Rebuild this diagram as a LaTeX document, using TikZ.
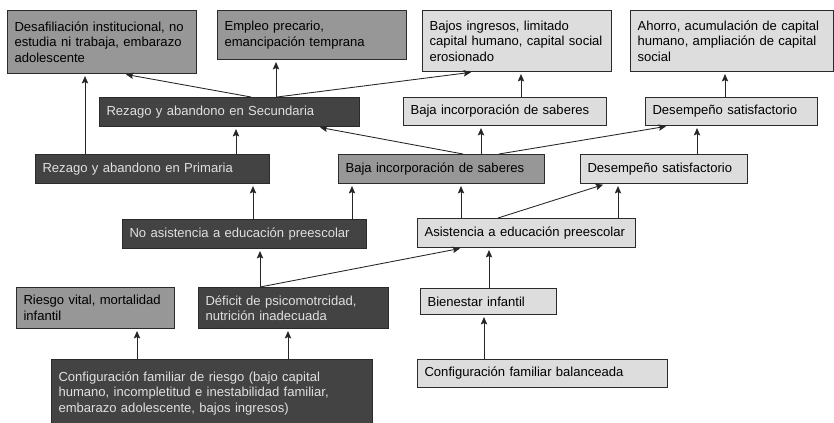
\documentclass[tikz,border=0pt]{standalone}
\usepackage{fontspec}
\setmainfont{Liberation Sans}
\usetikzlibrary{arrows.meta,calc}

\definecolor{darkbox}{HTML}{434343}
\definecolor{midbox}{HTML}{979797}
\definecolor{lightbox}{HTML}{DDDDDD}
\definecolor{boxline}{HTML}{2B2B2B}

\begin{document}
\begin{tikzpicture}[x=0.75pt,y=-0.75pt,
    box/.style={draw=boxline, line width=0.8pt, anchor=north west, align=left,
        inner xsep=5.25pt, inner ysep=1pt,
        font=\fontsize{9.8}{11.6}\selectfont},
    boxwh/.style 2 args={minimum width=#1*0.75pt, minimum height=#2*0.75pt,
        text width=#1*0.75pt-10.5pt},
    dark/.style={box, fill=darkbox, text=white!88!black},
    mid/.style={box, fill=midbox, text=black},
    light/.style={box, fill=lightbox, text=black},
    arr/.style={draw=black!85, line width=0.65pt, shorten >=1.5pt,
        -{Stealth[length=5.5pt,width=4.8pt,inset=1pt]}}]
\useasboundingbox (0,0) rectangle (834,422);
% outcomes
\node[mid, boxwh={189}{63}] at (7,10) (desaf) {Desafiliación institucional, no\\estudia ni trabaja, embarazo\\adolescente};
\node[mid, boxwh={189}{49}] at (217,10) (empleo) {Empleo precario,\\emancipación temprana};
\node[light, boxwh={189}{61}] at (422,10) (bajos) {Bajos ingresos, limitado\\capital humano, capital social\\erosionado};
\node[light, boxwh={203}{61}] at (630,10) (ahorro) {Ahorro, acumulación de capital\\humano, ampliación de capital\\social};
% secundaria
\node[dark, boxwh={260}{29}] at (99,97) (sec) {Rezago y abandono en Secundaria};
\node[light, boxwh={203}{28}] at (403,97) (bajaA) {Baja incorporación de saberes};
\node[light, boxwh={172}{28}] at (645,97) (desA) {Desempeño satisfactorio};
% primaria
\node[dark, boxwh={234}{29}] at (35,154) (prim) {Rezago y abandono en Primaria};
\node[mid, boxwh={206}{29}] at (338,154) (bajaB) {Baja incorporación de saberes};
\node[light, boxwh={167}{29}] at (580,154) (desB) {Desempeño satisfactorio};
% preescolar
\node[dark, boxwh={244}{29}] at (122,219) (noasis) {No asistencia a educación preescolar};
\node[light, boxwh={218}{29}] at (417,218) (asis) {Asistencia a educación preescolar};
% infancia
\node[mid, boxwh={158}{41}] at (16,287) (riesgo) {Riesgo vital, mortalidad\\infantil};
\node[dark, boxwh={190}{41}] at (198,287) (deficit) {Déficit de psicomotrcidad,\\nutrición inadecuada};
\node[light, boxwh={136}{26}] at (420,288) (bien) {Bienestar infantil};
% familia
\node[dark, boxwh={321}{68}] at (51,359) (confR) {Configuración familiar de riesgo (bajo capital\\humano, incompletitud e inestabilidad familiar,\\embarazo adolescente, bajos ingresos)};
\node[light, boxwh={250}{28}] at (417,359) (confB) {Configuración familiar balanceada};

\draw[arr] ($(prim.north west)+(50,0)$) -- ($(desaf.south west)+(78,0)$);
\draw[arr] ($(sec.north west)+(152,0)$) -- ($(desaf.south west)+(117,0)$);
\draw[arr] ($(sec.north west)+(177,0)$) -- ($(empleo.south west)+(59,0)$);
\draw[arr] ($(sec.north west)+(178,0)$) -- ($(bajos.south west)+(51,0)$);
\draw[arr] ($(bajaA.north west)+(118,0)$) -- ($(bajos.south west)+(99,0)$);
\draw[arr] ($(desA.north west)+(80,0)$) -- ($(ahorro.south west)+(95,0)$);
\draw[arr] ($(prim.north west)+(201,0)$) -- ($(sec.south west)+(137,0)$);
\draw[arr] ($(bajaB.north west)+(125,0)$) -- ($(sec.south west)+(219,0)$);
\draw[arr] ($(bajaB.north west)+(143,0)$) -- ($(bajaA.south west)+(78,0)$);
\draw[arr] ($(bajaB.north west)+(161,0)$) -- ($(desA.south west)+(23,0)$);
\draw[arr] ($(noasis.north west)+(131,0)$) -- ($(prim.south west)+(218,0)$);
\draw[arr] ($(noasis.north west)+(230,0)$) -- ($(bajaB.south west)+(14,0)$);
\draw[arr] ($(asis.north west)+(44,0)$) -- ($(bajaB.south west)+(123,0)$);
\draw[arr] ($(asis.north west)+(81,0)$) -- ($(desB.south west)+(25,0)$);
\draw[arr] ($(asis.north west)+(201,0)$) -- ($(desB.south west)+(38,0)$);
\draw[arr] ($(desB.north west)+(117,0)$) -- ($(desA.south west)+(52,0)$);
\draw[arr] ($(deficit.north west)+(62,0)$) -- ($(noasis.south west)+(138,0)$);
\draw[arr] ($(deficit.north west)+(62,0)$) -- ($(asis.south west)+(45,0)$);
\draw[arr] ($(bien.north west)+(69,0)$) -- ($(asis.south west)+(72,0)$);
\draw[arr] ($(confR.north west)+(86,0)$) -- ($(riesgo.south west)+(121,0)$);
\draw[arr] ($(confR.north west)+(237,0)$) -- ($(deficit.south west)+(90,0)$);
\draw[arr] ($(confB.north west)+(67,0)$) -- ($(bien.south west)+(64,0)$);
\end{tikzpicture}
\end{document}
